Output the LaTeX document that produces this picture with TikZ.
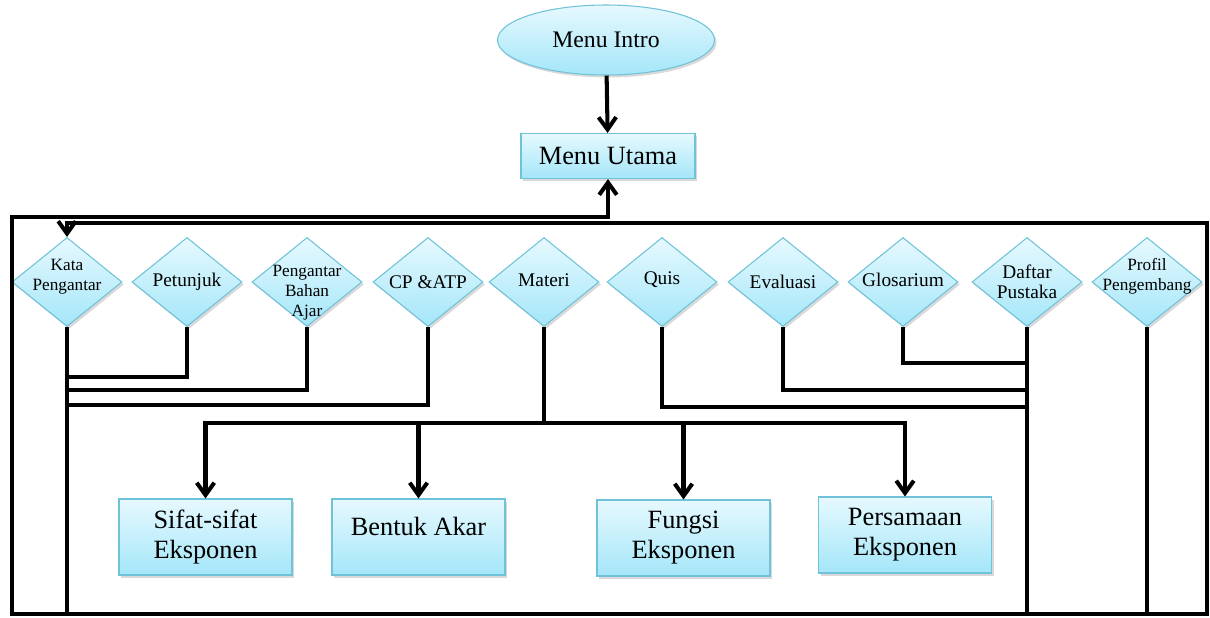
\documentclass[tikz,border=0pt]{standalone}
\usepackage{fontspec}
\setmainfont{Liberation Serif}
\usetikzlibrary{shapes.geometric, arrows.meta, shadows}

\definecolor{boxtop}{HTML}{E6F9FE}
\definecolor{boxbottom}{HTML}{A4E6F9}
\definecolor{boxline}{HTML}{6FC2D8}

\begin{document}
\begin{tikzpicture}[
        shaded/.style={draw=boxline, line width=0.6pt, top color=boxtop, bottom color=boxbottom, drop shadow={opacity=0.3, shadow xshift=0.04cm, shadow yshift=-0.05cm}},
        start/.style={shaded, ellipse, minimum width=4.34cm, minimum height=1.4cm, font=\fontsize{13.5}{16}\selectfont},
        menubox/.style={shaded, rectangle, minimum width=3.48cm, minimum height=0.9cm, font=\fontsize{15}{17}\selectfont},
        choice/.style={shaded, diamond, minimum width=2.2cm, minimum height=1.78cm, inner sep=0pt},
        choicetext/.style={align=center, font=\fontsize{11}{11.5}\selectfont},
        smalltext/.style={align=center, font=\fontsize{9.8}{11.3}\selectfont},
        topic/.style={shaded, rectangle, minimum width=3.46cm, minimum height=1.52cm, align=center, font=\fontsize{15}{17}\selectfont},
        link/.style={draw, line width=2.3pt},
        arrow/.style={link, -{Straight Barb[length=7pt, width=10pt]}}
    ]
        \useasboundingbox (0,0) rectangle (24.2,12.34);

        % Menus
        \node[start] (intro) at (12.12, 11.54) {Menu Intro};
        \node[menubox] (utama) at (12.16, 9.22) {Menu Utama};

        % Choices
        \node[choice, label={[smalltext, yshift=0.1cm]center:Kata\\Pengantar}] (kata) at (1.34, 6.70) {};
        \node[choice, label={[choicetext]center:Petunjuk}] (petunjuk) at (3.74, 6.70) {};
        \node[choice, label={[smalltext, yshift=-0.22cm]center:Pengantar\\Bahan\\Ajar}] (bahan) at (6.14, 6.70) {};
        \node[choice, label={[choicetext]center:CP \&ATP}] (cpatp) at (8.56, 6.70) {};
        \node[choice, label={[choicetext, yshift=0.04cm]center:Materi}] (materi) at (10.88, 6.70) {};
        \node[choice, label={[choicetext, yshift=0.04cm]center:Quis}] (quis) at (13.24, 6.70) {};
        \node[choice, label={[choicetext]center:Evaluasi}] (evaluasi) at (15.66, 6.70) {};
        \node[choice, label={[choicetext, yshift=0.04cm]center:Glosarium}] (glosarium) at (18.06, 6.70) {};
        \node[choice, label={[choicetext]center:Daftar\\Pustaka}] (daftar) at (20.54, 6.70) {};
        \node[choice, label={[smalltext, yshift=0.12cm]center:Profil\\Pengembang}] (profil) at (22.94, 6.70) {};

        % Topics
        \node[topic] (sifat) at (4.11, 1.60) {Sifat-sifat\\Eksponen};
        \node[topic] (akar) at (8.37, 1.60) {Bentuk Akar\\[-10pt]\strut};
        \node[topic] (fungsi) at (13.67, 1.58) {Fungsi\\Eksponen};
        \node[topic] (persamaan) at (18.10, 1.64) {Persamaan\\Eksponen};

        % Frame corners
        \coordinate (bl) at (0.24, 0.06);
        \coordinate (br) at (24.14, 0.06);
        \coordinate (tl) at (0.24, 8.00);
        \coordinate (tr) at (24.14, 7.88);
        \coordinate (split) at (10.88, 3.88);

        % Flow
        \draw[arrow] (intro) -- (utama);
        \draw[arrow] (br) -- (bl) -- (tl) -| (utama.south);
        \draw[arrow] (bl) -- (br) -- (tr) -| (kata.north);

        \draw[link] (kata.south) -- (kata.south |- bl);
        \draw[link] (petunjuk.south) |- (kata.south |- 0,4.80);
        \draw[link] (bahan.south) |- (kata.south |- 0,4.54);
        \draw[link] (cpatp.south) |- (kata.south |- 0,4.24);

        \draw[link] (daftar.south) -- (daftar.south |- bl);
        \draw[link] (profil.south) -- (profil.south |- bl);
        \draw[link] (glosarium.south) |- (daftar.south |- 0,5.08);
        \draw[link] (evaluasi.south) |- (daftar.south |- 0,4.54);
        \draw[link] (quis.south) |- (daftar.south |- 0,4.20);

        \draw[link] (materi.south) -- (split);
        \draw[arrow] (split) -| (sifat.north);
        \draw[arrow] (split) -| (persamaan.north);
        \draw[arrow] (split -| akar.north) -- (akar.north);
        \draw[arrow] (split -| fungsi.north) -- (fungsi.north);
    \end{tikzpicture}
\end{document}
